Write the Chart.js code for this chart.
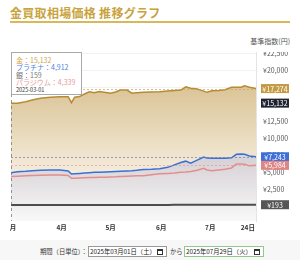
<!DOCTYPE html>
<html lang="ja">
<head>
  <meta charset="UTF-8">
  <title>金買取相場価格 推移グラフ</title>
  <script src="https://cdn.jsdelivr.net/npm/chart.js"></script>
  <style>
    body { margin: 0; width: 300px; height: 260px; position: relative; overflow: hidden; background: #fff;
           font-family: 'Noto Sans CJK JP', sans-serif; }
    .title { position: absolute; left: 10px; top: 4px; font-size: 12px; font-weight: bold; color: #c9a33e; letter-spacing: 0.3px; }
    .rule { position: absolute; left: 10px; top: 21px; width: 280px; height: 1.5px; background: #d8b95a; }
    .unit { position: absolute; right: 10px; top: 36px; font-size: 7px; color: #555; }
    .wrap { position: absolute; left: 10px; top: 52px; width: 290px; height: 188px; }
    .tip { position: absolute; left: 11px; top: 52px; width: 71px; height: 43px; background: #fff; border: 1px solid #aaa;
           font-size: 7px; line-height: 7.3px; padding: 4px 0 0 4px; box-sizing: border-box; white-space: nowrap; }
    .tip .d { font-size: 5.5px; color: #333; margin-top: 1px; }
    .bar { position: absolute; left: 0; top: 240px; width: 300px; height: 20px; background: #f7f7f7; }
    .ctl { position: absolute; top: 246px; font-size: 6.3px; color: #333; line-height: 11px; white-space: nowrap; }
    .box { position: absolute; top: 246px; height: 11px; box-sizing: border-box; border: 1px solid #999; background: #fff;
           font-size: 6.3px; line-height: 9px; padding-left: 1px; white-space: nowrap; color: #222; }
    .box i { position: absolute; right: 3px; top: 2px; width: 4px; height: 3px; border: 1px solid #333; border-top-width: 2px; }
  </style>
</head>
<body>
  <div class="title">金買取相場価格 推移グラフ</div>
  <div class="rule"></div>
  <div class="unit">基準指数(円)</div>
  <div class="wrap"><canvas id="priceChart"></canvas></div>
  <div class="tip" id="tip"></div>
  <div class="bar"></div>
  <div class="ctl" style="left:40px">期間（日単位）：</div>
  <div class="box" style="left:88px;width:79px">2025年03月01日（土）<i></i></div>
  <div class="ctl" style="left:170px">から</div>
  <div class="box" style="left:184px;width:80px;border-color:#8fc98f">2025年07月29日（火）<i></i></div>

  <script>
    const dates = ['2025-03-01','2025-03-05','2025-03-10','2025-03-14','2025-03-19','2025-03-25','2025-03-31',
      '2025-04-05','2025-04-07','2025-04-09','2025-04-12','2025-04-15','2025-04-18','2025-04-21','2025-04-24','2025-04-28',
      '2025-05-01','2025-05-04','2025-05-07','2025-05-11','2025-05-14','2025-05-17','2025-05-21','2025-05-26','2025-05-31',
      '2025-06-05','2025-06-09','2025-06-13','2025-06-16','2025-06-19','2025-06-23','2025-06-27','2025-06-29',
      '2025-07-02','2025-07-06','2025-07-10','2025-07-14','2025-07-17','2025-07-20','2025-07-22','2025-07-25','2025-07-29'];
    const gold = [15132,15100,15340,15600,15840,15990,16070,16070,15200,16000,16100,16470,16810,16660,16840,16700,
      16570,16760,17060,17060,16600,16650,16720,16760,16810,16930,16990,17060,17540,17310,17210,16900,16720,
      16960,17000,17100,17460,17460,17460,17690,17460,17274];
    const platinum = [4912,5040,5100,5190,5250,5290,5290,5150,4710,4750,4800,4850,4900,4950,4960,5000,
      5040,5080,5120,5160,5190,5260,5380,5400,5480,5690,6050,6400,6600,6300,6750,7200,7050,
      7010,7010,7030,7100,7600,7650,7600,7350,7243];
    const silver = [159,160,162,163,164,162,163,160,152,155,157,158,160,160,161,162,
      163,163,164,164,163,164,165,166,167,170,172,178,182,182,183,183,184,
      185,186,187,188,190,189,191,192,193];
    const palladium = [4339,4380,4450,4490,4530,4560,4560,4500,4070,4090,4120,4150,4180,4200,4220,4250,
      4280,4300,4340,4380,4420,4440,4460,4600,4740,4800,4850,4960,5000,5070,5250,5540,5300,
      5190,5300,5400,5600,6180,6180,6150,5910,5984];
    const tickDates = ['2025-03-01','2025-04-01','2025-05-01','2025-06-01','2025-07-01','2025-07-24'];
    const tickLabels = ['3月','4月','5月','6月','7月','24日'];
    const yTicks = [0,2500,5000,7500,10000,12500,15000,17500,20000,22500];

    const start = Date.parse(dates[0]);
    const dayOf = d => (Date.parse(d) - start) / 86400000;
    const pts = arr => arr.map((v, i) => ({ x: dayOf(dates[i]), y: v }));
    const yen = v => '¥' + v.toLocaleString('en-US');

    const names = ['金', 'プラチナ', '銀', 'パラジウム'];
    const series = [gold, platinum, silver, palladium];
    const colors = ['#b98a35', '#3b6fd4', '#4d4d4d', '#e38d8d'];
    const tipColors = ['#d1a54c', '#4f7fdc', '#777', '#e89a9a'];
    const boxColors = ['#c59a45', '#3d6fd6', '#555555', '#e08585'];

    document.getElementById('tip').innerHTML = series.map((s, i) =>
      '<div style="color:' + tipColors[i] + '">' + names[i] + '：' + s[0].toLocaleString('en-US') + '</div>').join('') +
      '<div class="d">' + dates[0] + '</div>';

    function vGrad(ctx, stops) {
      const chart = ctx.chart;
      if (!chart.chartArea) return 'transparent';
      const y = chart.scales.y;
      const g = chart.ctx.createLinearGradient(0, y.getPixelForValue(stops[0][0]), 0, y.getPixelForValue(stops[1][0]));
      g.addColorStop(0, stops[0][1]);
      g.addColorStop(1, stops[1][1]);
      return g;
    }

    const overlay = {
      id: 'overlay',
      afterDatasetsDraw(chart) {
        const c = chart.ctx, a = chart.chartArea, y = chart.scales.y, x = chart.scales.x;
        c.save();
        c.lineWidth = 1;
        c.setLineDash([2, 2]);
        [[gold, 'rgba(200,165,90,0.7)'], [platinum, 'rgba(110,125,170,0.7)'], [palladium, 'rgba(230,140,140,0.6)']].forEach(([s, col]) => {
          const py = Math.round(y.getPixelForValue(s[s.length - 1])) + 0.5;
          c.strokeStyle = col;
          c.beginPath(); c.moveTo(a.left, py); c.lineTo(a.right, py); c.stroke();
        });
        c.setLineDash([3, 3]);
        c.strokeStyle = 'rgba(110,110,110,0.7)';
        const px = Math.round(x.getPixelForValue(0)) + 0.5;
        c.beginPath(); c.moveTo(px, a.top); c.lineTo(px, a.bottom); c.stroke();
        c.restore();
      },
      afterDraw(chart) {
        const c = chart.ctx, a = chart.chartArea, y = chart.scales.y;
        const tags = [
          [gold[gold.length - 1], boxColors[0]],
          [gold[0], '#1e2330'],
          [platinum[platinum.length - 1], boxColors[1]],
          [palladium[palladium.length - 1], boxColors[3]],
          [silver[silver.length - 1], boxColors[2]]
        ];
        c.save();
        c.font = "7px 'Noto Sans CJK JP', sans-serif";
        c.textAlign = 'center';
        c.textBaseline = 'middle';
        tags.forEach(([v, col]) => {
          const py = y.getPixelForValue(v);
          c.fillStyle = col;
          c.fillRect(a.right + 5, py - 4.5, 28, 9);
          c.fillStyle = '#fff';
          c.fillText(yen(v), a.right + 19, py + 0.5);
        });
        c.restore();
      }
    };

    Chart.defaults.font.family = "'Noto Sans CJK JP', sans-serif";

    new Chart(document.getElementById('priceChart'), {
      type: 'line',
      data: {
        datasets: [
          { label: names[0], data: pts(gold), borderColor: colors[0], borderWidth: 1.5, order: 4, fill: 'start',
            backgroundColor: ctx => vGrad(ctx, [[17000, '#dcc69a'], [5000, '#f4ecdc']]) },
          { label: names[1], data: pts(platinum), borderColor: colors[1], borderWidth: 1.5, order: 3, fill: 'start',
            backgroundColor: ctx => vGrad(ctx, [[6500, '#d8d3d7'], [-2000, '#f8f8f8']]) },
          { label: names[2], data: pts(silver), borderColor: colors[2], borderWidth: 2, order: 1, fill: false },
          { label: names[3], data: pts(palladium), borderColor: colors[3], borderWidth: 1.5, order: 2, fill: false }
        ]
      },
      options: {
        responsive: true,
        maintainAspectRatio: false,
        animation: false,
        layout: { padding: { left: 1, right: 0, top: 0, bottom: 0 } },
        elements: { point: { radius: 0 }, line: { tension: 0 } },
        plugins: { legend: { display: false }, tooltip: { enabled: false } },
        scales: {
          x: {
            type: 'linear', min: 0, max: dayOf('2025-07-29'),
            grid: { display: false, drawTicks: false },
            border: { display: false },
            afterBuildTicks: s => { s.ticks = tickDates.map(d => ({ value: dayOf(d) })); },
            afterFit: s => { s.height = 19; s.paddingLeft = 0; s.paddingRight = 0; },
            ticks: {
              autoSkip: false, maxRotation: 0, padding: 3,
              color: '#333', font: { size: 6.5, weight: 'bold' },
              callback: (v, i) => tickLabels[i]
            }
          },
          y: {
            position: 'right', min: -2200, max: 22650,
            grid: { color: 'rgba(0,0,0,0.05)', drawTicks: false },
            border: { color: '#e4e4e4' },
            afterBuildTicks: s => { s.ticks = yTicks.map(v => ({ value: v })); },
            afterFit: s => { s.width = 44; s.paddingTop = 0; s.paddingBottom = 0; },
            ticks: { padding: 7, color: '#555', font: { size: 7 }, callback: v => yen(v) }
          }
        }
      },
      plugins: [overlay]
    });
  </script>
</body>
</html>
